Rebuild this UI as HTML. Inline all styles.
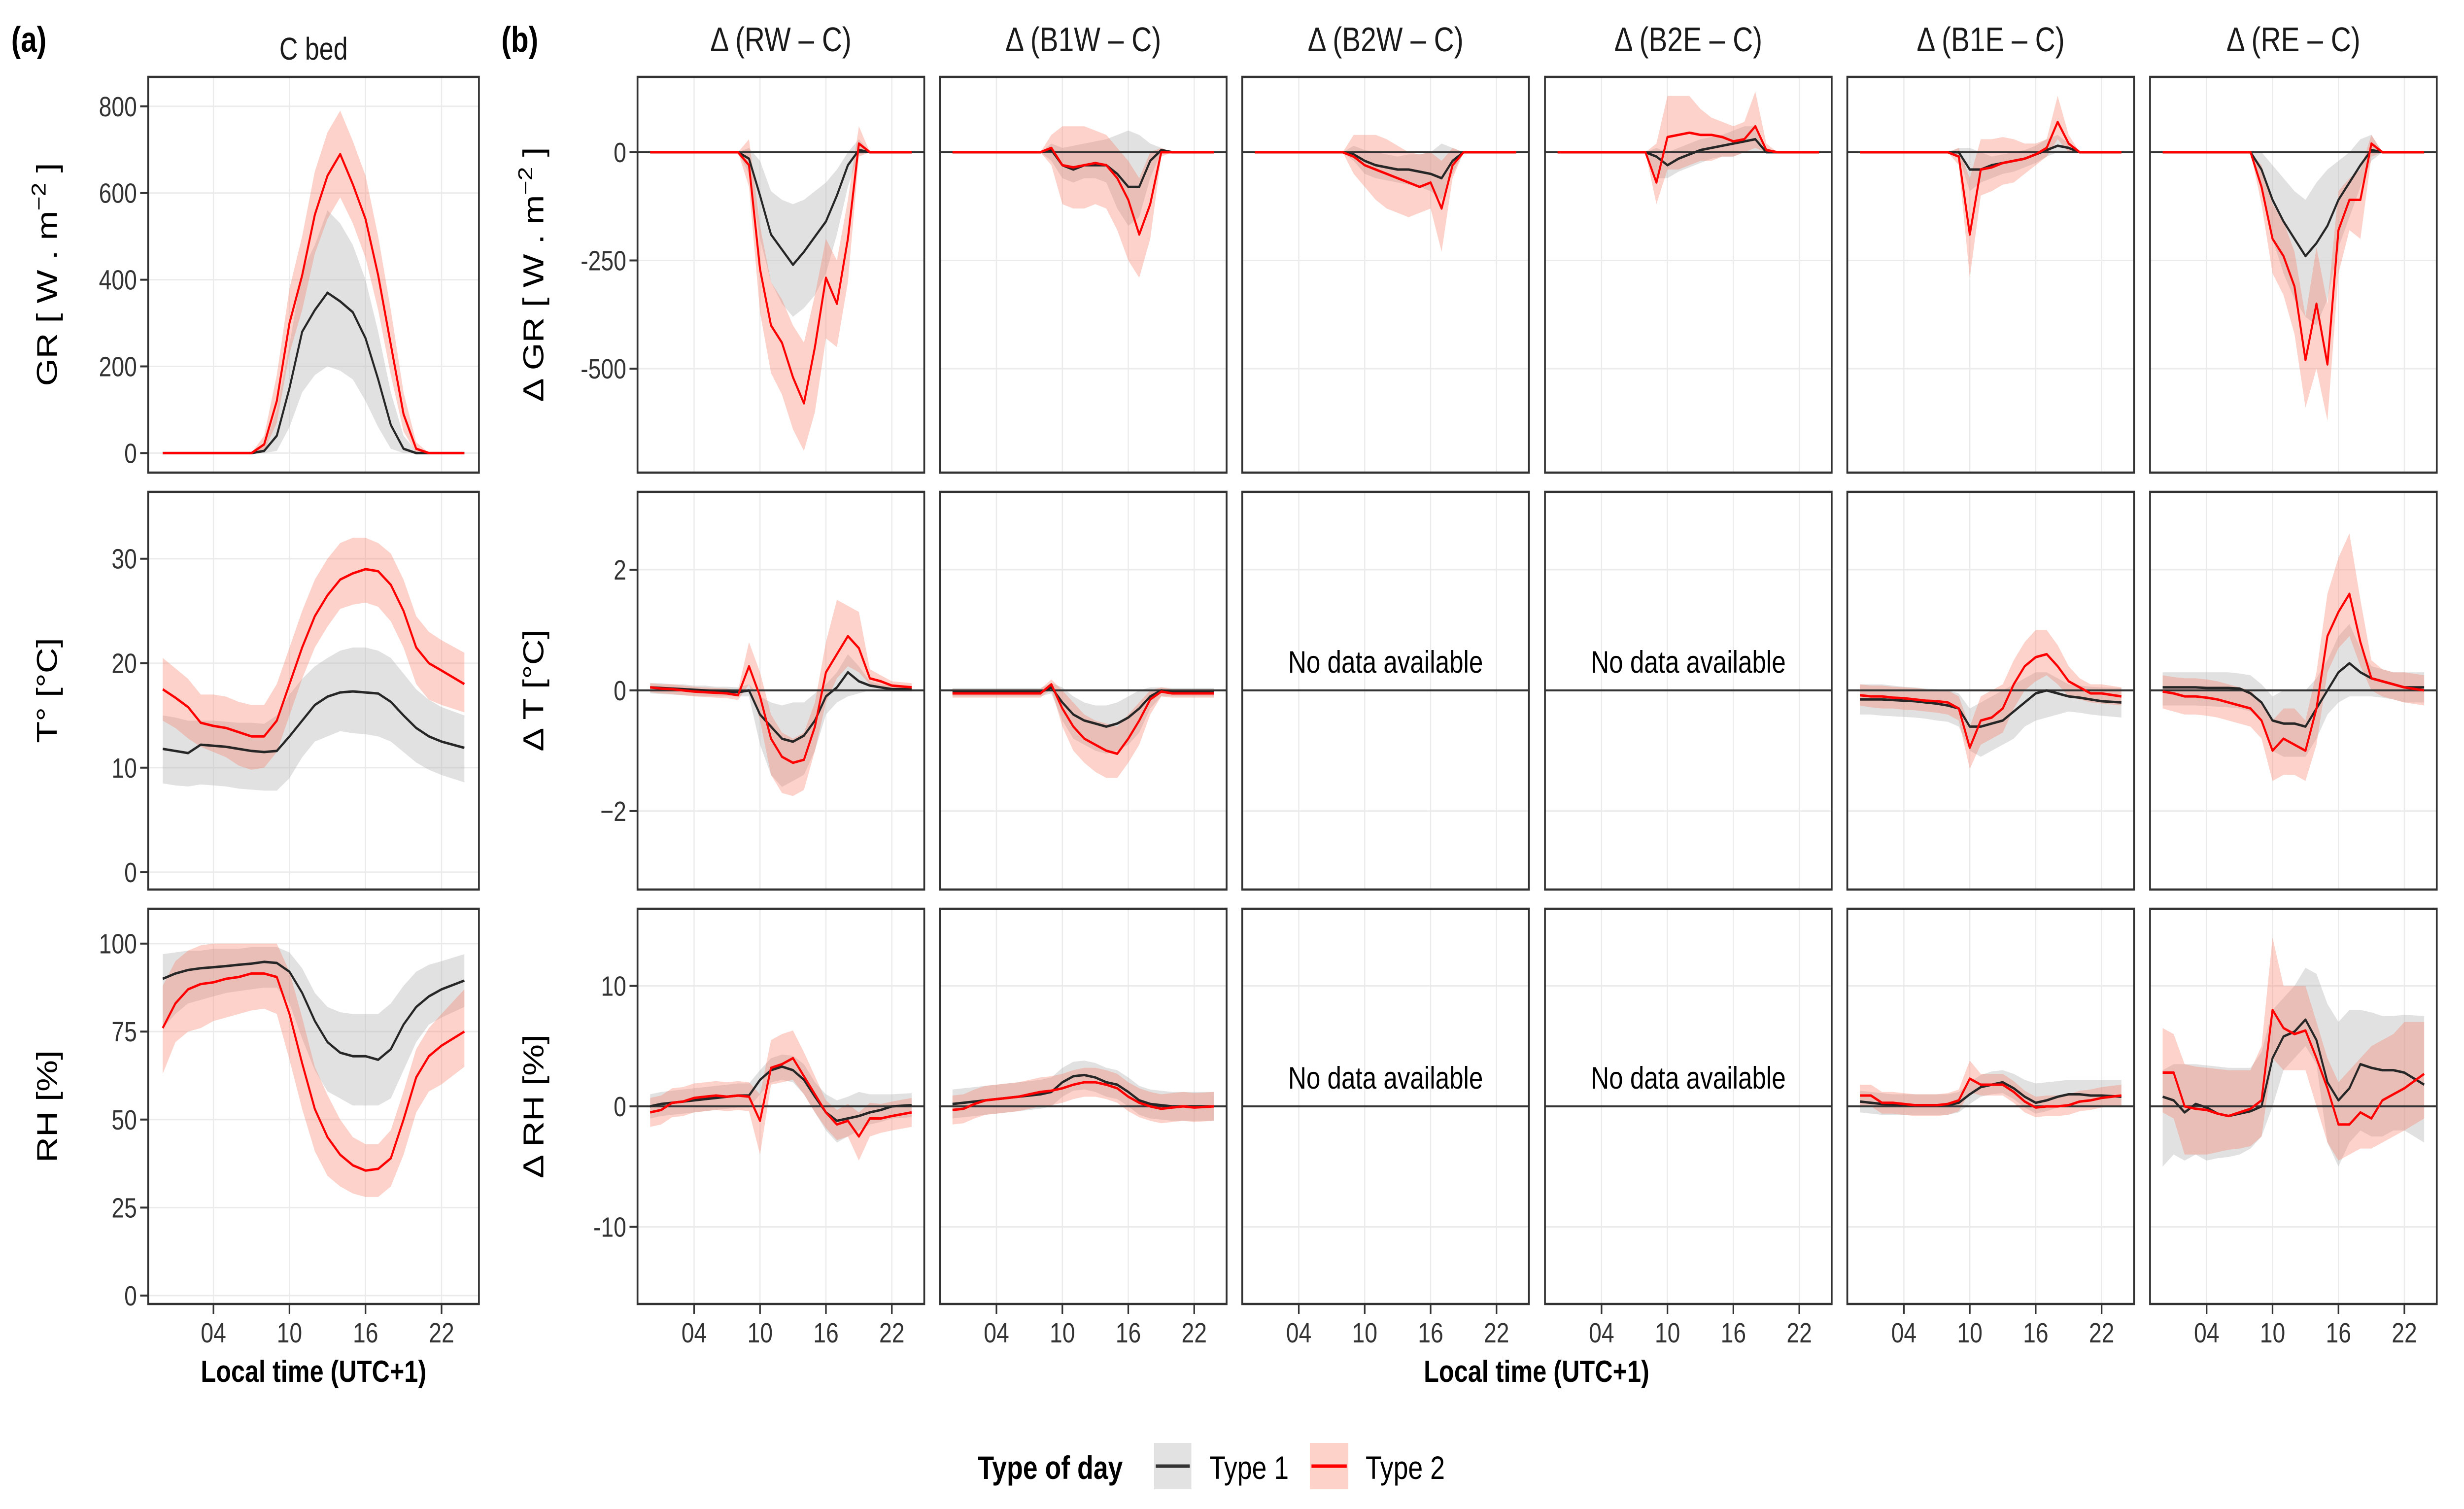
<!DOCTYPE html>
<html><head><meta charset="utf-8"><title>Type of day chart</title>
<style>
html,body{margin:0;padding:0;background:#fff;width:100%;height:100%;overflow:hidden;}
svg{display:block;position:fixed;left:0;top:0;width:100vw;height:100vh;font-family:"Liberation Sans",Arial,sans-serif;}
</style></head>
<body>
<svg id="chart" viewBox="0 0 6153 3062" preserveAspectRatio="none" xmlns="http://www.w3.org/2000/svg">
<rect x="0" y="0" width="6153" height="3062" fill="#fff"/>
<text x="28" y="105" font-size="72" font-weight="bold">(a)</text>
<text x="1252" y="105" font-size="72" font-weight="bold">(b)</text>
<text x="783" y="121" font-size="64" text-anchor="middle" fill="#1a1a1a">C bed</text>
<g font-size="70" text-anchor="middle" fill="#1a1a1a">
<text x="1950" y="104">Δ (RW – C)</text>
<text x="2705" y="104">Δ (B1W – C)</text>
<text x="3460" y="104">Δ (B2W – C)</text>
<text x="4216" y="104">Δ (B2E – C)</text>
<text x="4971" y="104">Δ (B1E – C)</text>
<text x="5727" y="104">Δ (RE – C)</text>
</g>
<g font-size="72" text-anchor="middle" fill="#000">
<text transform="translate(142,557) rotate(-90)">GR [ W . m<tspan font-size="50" dy="-28">−2</tspan><tspan dy="28"> ]</tspan></text>
<text transform="translate(142,1401) rotate(-90)">T° [°C]</text>
<text transform="translate(142,2245) rotate(-90)">RH [%]</text>
<text transform="translate(1357,557) rotate(-90)">Δ GR [ W . m<tspan font-size="50" dy="-28">−2</tspan><tspan dy="28"> ]</tspan></text>
<text transform="translate(1357,1401) rotate(-90)">Δ T [°C]</text>
<text transform="translate(1357,2245) rotate(-90)">Δ RH [%]</text>
</g>
<text x="783" y="2804" font-size="62" font-weight="bold" text-anchor="middle">Local time (UTC+1)</text>
<text x="3837" y="2804" font-size="62" font-weight="bold" text-anchor="middle">Local time (UTC+1)</text>
<g>
<text x="2442" y="3001" font-size="66" font-weight="bold">Type of day</text>
<rect x="2882" y="2928" width="93" height="94" fill="#e2e2e2"/>
<line x1="2886" y1="2975" x2="2971" y2="2975" stroke="#333" stroke-width="7"/>
<text x="3020" y="3001" font-size="66">Type 1</text>
<rect x="3271" y="2928" width="96" height="94" fill="#fcd2c9"/>
<line x1="3275" y1="2975" x2="3363" y2="2975" stroke="#ff0000" stroke-width="7"/>
<text x="3410" y="3001" font-size="66">Type 2</text>
</g>
<g id="panels"></g>
</svg>
<script>
const hours=[0,1,2,3,4,5,6,7,8,9,10,11,12,13,14,15,16,17,18,19,20,21,22,23.8];
const xTicks=[4,10,16,22];
const xTickLabels=['04','10','16','22'];
const yTicksAGR=[0,200,400,600,800];
const yTicksAT=[0,10,20,30];
const yTicksARH=[0,25,50,75,100];
const yTicksBGR=[-500,-250,0];
const yTicksBT=[-2,0,2];
const yTicksBRH=[-10,0,10];
const yLabelsBGR=['-500','-250','0'];
const yLabelsBT=['−2','0','2'];
const yLabelsBRH=['-10','0','10'];

// Panel (a) C bed
const gA1m=[0,0,0,0,0,0,0,0,5,40,150,280,330,370,350,325,265,170,65,10,0,0,0,0];
const gA1l=[0,0,0,0,0,0,0,0,0,5,60,140,180,200,190,170,120,60,10,0,0,0,0,0];
const gA1h=[0,0,0,0,0,0,0,0,15,100,250,420,480,560,530,480,400,280,140,40,5,0,0,0];
const gA2m=[0,0,0,0,0,0,0,0,20,120,300,410,550,640,690,620,540,410,250,90,10,0,0,0];
const gA2l=[0,0,0,0,0,0,0,0,5,70,230,330,460,540,590,530,450,330,180,50,0,0,0,0];
const gA2h=[0,0,0,0,0,0,0,0,40,180,380,500,650,740,790,720,640,500,330,140,25,0,0,0];
const tA1m=[11.8,11.6,11.4,12.2,12.1,12.0,11.8,11.6,11.5,11.6,13,14.5,16,16.8,17.2,17.3,17.2,17.1,16.3,15.0,13.8,13.0,12.5,11.9];
const tA1l=[8.5,8.3,8.2,8.4,8.3,8.2,8.0,7.9,7.8,7.8,9,11,12.5,13,13.5,13.3,13.2,13,12.5,11.5,10.5,9.8,9.3,8.6];
const tA1h=[15,14.8,14.5,14.5,14.5,14.4,14.3,14.3,14.2,15,17,18.5,19.7,20.5,21.2,21.5,21.5,21.2,20.5,19,17.5,16.5,15.8,15];
const tA2m=[17.5,16.7,15.8,14.3,14,13.8,13.4,13.0,13.0,14.5,18,21.5,24.5,26.5,28,28.6,29,28.8,27.5,25,21.5,20,19.3,18];
const tA2l=[14.5,13.8,12.8,12,11.5,11,10.2,9.8,10,11.5,15,18.5,21.5,23.5,25.2,25.6,25.8,25.4,24,21.5,18,16.5,16,15.3];
const tA2h=[20.5,19.5,18.5,17,17,16.8,16.3,16,16,18,21.5,25,28,30,31.5,32,32,31.5,30.5,28,24.5,23,22.2,21];
const hA1m=[90,91.5,92.5,93,93.3,93.6,94,94.3,94.8,94.5,92,86,78,72,69,68,68,67,70,77,82,85,87,89.5];
const hA1l=[76,80,83,84,85,86,86.5,87,87.5,87.5,83,73,64,58,56,54,54,54,56,64,72,77,79,82];
const hA1h=[97,97.5,98,98,98.5,98.5,98.5,99,99,99,97.5,93,86,82,80.5,80,80,80,83,88,92,94,95,97];
const hA2m=[76,83,87,88.5,89,90,90.5,91.5,91.5,90.5,80,66,53,45,40,37,35.5,36,39,50,62,68,71,75];
const hA2l=[63,72,75,76,78,79,80,81,81.5,80,67,53,41,34,31,29,28,28,31,40,52,58,60,65];
const hA2h=[88,95,98,99.5,100,100,100,100,100,100,92,79,65,57,50,45,43,43,47,58,70,76,80,87];

// Panel (b) GR
const rwG1m=[0,0,0,0,0,0,0,0,0,-15,-100,-190,-225,-260,-230,-195,-160,-100,-30,5,0,0,0,0];
const rwG1l=[0,0,0,0,0,0,0,0,0,-50,-200,-300,-350,-380,-360,-330,-280,-190,-80,-5,0,0,0,0];
const rwG1h=[0,0,0,0,0,0,0,0,0,10,-20,-90,-110,-120,-110,-90,-70,-40,0,30,0,0,0,0];
const rwG2m=[0,0,0,0,0,0,0,0,0,-30,-270,-400,-440,-520,-580,-450,-290,-350,-200,20,0,0,0,0];
const rwG2l=[0,0,0,0,0,0,0,0,0,-80,-370,-510,-560,-640,-690,-600,-430,-450,-300,-10,0,0,0,0];
const rwG2h=[0,0,0,0,0,0,0,0,0,30,-170,-300,-340,-400,-440,-330,-200,-250,-110,60,0,0,0,0];
const b1wG1m=[0,0,0,0,0,0,0,0,0,5,-30,-40,-30,-30,-30,-50,-80,-80,-20,5,0,0,0,0];
const b1wG1l=[0,0,0,0,0,0,0,0,0,-20,-60,-70,-60,-60,-70,-130,-170,-150,-60,0,0,0,0,0];
const b1wG1h=[0,0,0,0,0,0,0,0,0,20,10,15,20,25,30,40,50,40,20,10,0,0,0,0];
const b1wG2m=[0,0,0,0,0,0,0,0,0,10,-30,-35,-30,-25,-30,-60,-110,-190,-120,0,0,0,0,0];
const b1wG2l=[0,0,0,0,0,0,0,0,0,-30,-120,-130,-130,-120,-130,-180,-250,-290,-200,-10,0,0,0,0];
const b1wG2h=[0,0,0,0,0,0,0,0,0,40,60,60,60,50,40,10,-20,-60,0,10,0,0,0,0];
const b2wG1m=[0,0,0,0,0,0,0,0,0,-5,-20,-30,-35,-40,-40,-45,-50,-60,-20,0,0,0,0,0];
const b2wG1l=[0,0,0,0,0,0,0,0,0,-20,-50,-60,-65,-70,-75,-80,-90,-110,-50,0,0,0,0,0];
const b2wG1h=[0,0,0,0,0,0,0,0,0,15,5,0,-5,-10,-5,-5,0,20,10,0,0,0,0,0];
const b2wG2m=[0,0,0,0,0,0,0,0,0,-10,-30,-40,-50,-60,-70,-80,-70,-130,-30,0,0,0,0,0];
const b2wG2l=[0,0,0,0,0,0,0,0,0,-50,-80,-110,-130,-140,-150,-140,-130,-230,-60,0,0,0,0,0];
const b2wG2h=[0,0,0,0,0,0,0,0,0,40,40,40,30,15,0,-5,0,-20,10,0,0,0,0,0];
const b2eG1m=[0,0,0,0,0,0,0,0,0,-10,-30,-15,-5,5,10,15,20,25,30,0,0,0,0,0];
const b2eG1l=[0,0,0,0,0,0,0,0,0,-60,-60,-45,-35,-25,-15,-10,-10,0,0,0,0,0,0,0];
const b2eG1h=[0,0,0,0,0,0,0,0,0,10,0,10,20,30,35,40,50,60,60,10,0,0,0,0];
const b2eG2m=[0,0,0,0,0,0,0,0,0,-70,35,40,45,40,40,35,25,30,60,5,0,0,0,0];
const b2eG2l=[0,0,0,0,0,0,0,0,0,-120,-40,-40,-30,-20,-20,-10,-10,0,10,0,0,0,0,0];
const b2eG2h=[0,0,0,0,0,0,0,0,0,20,130,130,130,100,80,70,60,70,140,20,0,0,0,0];
const b1eG1m=[0,0,0,0,0,0,0,0,0,0,-40,-40,-30,-25,-20,-15,-5,5,15,10,0,0,0,0];
const b1eG1l=[0,0,0,0,0,0,0,0,0,-10,-90,-70,-60,-50,-45,-35,-25,-10,0,0,0,0,0,0];
const b1eG1h=[0,0,0,0,0,0,0,0,0,10,10,0,-10,-5,0,5,15,30,40,20,0,0,0,0];
const b1eG2m=[0,0,0,0,0,0,0,0,0,-10,-190,-40,-35,-25,-20,-15,-5,10,70,20,0,0,0,0];
const b1eG2l=[0,0,0,0,0,0,0,0,0,-30,-290,-100,-90,-75,-70,-50,-30,-10,30,0,0,0,0,0];
const b1eG2h=[0,0,0,0,0,0,0,0,0,10,-60,30,30,35,30,20,20,30,130,40,0,0,0,0];
const reG1m=[0,0,0,0,0,0,0,0,0,-40,-110,-160,-200,-240,-210,-170,-110,-70,-30,5,0,0,0,0];
const reG1l=[0,0,0,0,0,0,0,0,0,-90,-200,-280,-340,-380,-400,-340,-220,-150,-80,-20,0,0,0,0];
const reG1h=[0,0,0,0,0,0,0,0,0,0,-30,-60,-90,-110,-70,-40,-20,0,30,40,0,0,0,0];
const reG2m=[0,0,0,0,0,0,0,0,0,-80,-200,-240,-310,-480,-350,-490,-180,-110,-110,20,0,0,0,0];
const reG2l=[0,0,0,0,0,0,0,0,0,-120,-280,-330,-420,-590,-500,-620,-280,-180,-200,-10,0,0,0,0];
const reG2h=[0,0,0,0,0,0,0,0,0,-30,-120,-160,-230,-380,-220,-350,-90,-60,-40,40,0,0,0,0];

// Panel (b) T
const rwT1m=[0.05,0.04,0.03,0.02,0.01,0,-0.01,-0.02,-0.03,0,-0.4,-0.6,-0.8,-0.85,-0.75,-0.5,-0.1,0.05,0.3,0.15,0.08,0.05,0.02,0.02];
const rwT1l=[-0.05,-0.06,-0.07,-0.08,-0.09,-0.1,-0.1,-0.1,-0.1,-0.1,-0.9,-1.4,-1.6,-1.5,-1.4,-1.0,-0.4,-0.2,-0.1,-0.05,0,0,-0.02,-0.02];
const rwT1h=[0.12,0.12,0.1,0.1,0.08,0.08,0.06,0.06,0.05,0.1,-0.1,-0.2,-0.25,-0.2,-0.2,-0.05,0.1,0.3,0.6,0.4,0.15,0.1,0.08,0.08];
const rwT2m=[0.05,0.03,0.02,0,-0.02,-0.03,-0.04,-0.05,-0.08,0.4,-0.1,-0.8,-1.1,-1.2,-1.15,-0.6,0.3,0.6,0.9,0.7,0.2,0.15,0.08,0.05];
const rwT2l=[-0.03,-0.05,-0.06,-0.08,-0.1,-0.11,-0.12,-0.13,-0.16,0.1,-0.5,-1.4,-1.7,-1.75,-1.65,-1.0,-0.2,0.2,0.4,0.3,0.1,0.05,0,-0.02];
const rwT2h=[0.12,0.1,0.1,0.08,0.06,0.05,0.04,0.03,0,0.8,0.3,-0.4,-0.7,-0.8,-0.7,-0.2,0.8,1.5,1.4,1.3,0.35,0.25,0.15,0.12];
const b1wT1m=[-0.03,-0.03,-0.03,-0.03,-0.03,-0.03,-0.03,-0.03,-0.03,0.05,-0.2,-0.4,-0.5,-0.55,-0.6,-0.55,-0.45,-0.3,-0.1,0,-0.03,-0.03,-0.03,-0.03];
const b1wT1l=[-0.1,-0.1,-0.1,-0.1,-0.1,-0.1,-0.1,-0.1,-0.1,-0.05,-0.5,-0.8,-0.9,-1.0,-1.05,-1.0,-0.9,-0.7,-0.3,-0.1,-0.1,-0.1,-0.1,-0.1];
const b1wT1h=[0.04,0.04,0.04,0.04,0.04,0.04,0.04,0.04,0.04,0.12,0.05,-0.1,-0.2,-0.25,-0.25,-0.2,-0.1,0,0.05,0.05,0.04,0.04,0.04,0.04];
const b1wT2m=[-0.05,-0.05,-0.05,-0.05,-0.05,-0.05,-0.05,-0.05,-0.05,0.1,-0.3,-0.6,-0.8,-0.9,-1.0,-1.05,-0.8,-0.5,-0.15,-0.02,-0.05,-0.05,-0.05,-0.05];
const b1wT2l=[-0.12,-0.12,-0.12,-0.12,-0.12,-0.12,-0.12,-0.12,-0.12,0.02,-0.6,-1.0,-1.2,-1.35,-1.45,-1.45,-1.2,-0.9,-0.4,-0.1,-0.12,-0.12,-0.12,-0.12];
const b1wT2h=[0.02,0.02,0.02,0.02,0.02,0.02,0.02,0.02,0.02,0.18,0,-0.2,-0.4,-0.5,-0.55,-0.6,-0.4,-0.2,0,0.05,0.02,0.02,0.02,0.02];
const b1eT1m=[-0.15,-0.15,-0.15,-0.16,-0.17,-0.18,-0.2,-0.22,-0.25,-0.3,-0.6,-0.6,-0.55,-0.5,-0.35,-0.2,-0.05,0,-0.05,-0.1,-0.12,-0.15,-0.18,-0.2];
const b1eT1l=[-0.4,-0.4,-0.42,-0.43,-0.44,-0.45,-0.47,-0.5,-0.52,-0.6,-1.0,-1.1,-1.0,-0.9,-0.8,-0.6,-0.5,-0.45,-0.4,-0.35,-0.37,-0.4,-0.42,-0.45];
const b1eT1h=[0.1,0.1,0.1,0.08,0.06,0.05,0.03,0.02,0,-0.05,-0.3,-0.2,-0.1,0,0.1,0.2,0.3,0.3,0.2,0.1,0.08,0.06,0.05,0.04];
const b1eT2m=[-0.08,-0.1,-0.1,-0.12,-0.13,-0.15,-0.17,-0.18,-0.2,-0.3,-0.95,-0.5,-0.45,-0.3,0.1,0.4,0.55,0.6,0.4,0.15,0.05,-0.05,-0.05,-0.1];
const b1eT2l=[-0.25,-0.28,-0.3,-0.3,-0.32,-0.33,-0.35,-0.37,-0.4,-0.5,-1.3,-0.9,-0.8,-0.7,-0.3,0,0.15,0.25,0.1,-0.1,-0.15,-0.2,-0.22,-0.25];
const b1eT2h=[0.1,0.08,0.08,0.06,0.05,0.04,0.02,0,0,-0.1,-0.6,-0.1,0,0.1,0.5,0.8,1.0,1.0,0.75,0.4,0.2,0.1,0.1,0.05];
const reT1m=[0.05,0.05,0.05,0.05,0.04,0.04,0.04,0.03,-0.05,-0.2,-0.5,-0.55,-0.55,-0.6,-0.3,0,0.3,0.45,0.3,0.2,0.15,0.1,0.05,0.05];
const reT1l=[-0.25,-0.25,-0.25,-0.25,-0.26,-0.27,-0.28,-0.3,-0.35,-0.5,-1.0,-1.1,-1.1,-1.1,-0.8,-0.4,-0.2,-0.1,-0.1,-0.1,-0.12,-0.15,-0.2,-0.2];
const reT1h=[0.3,0.3,0.3,0.3,0.3,0.3,0.3,0.28,0.25,0.1,-0.1,0,0,0,0.2,0.5,0.9,1.1,0.7,0.4,0.35,0.3,0.3,0.3];
const reT2m=[-0.02,-0.05,-0.1,-0.1,-0.12,-0.15,-0.2,-0.25,-0.3,-0.5,-1.0,-0.8,-0.9,-1.0,-0.3,0.9,1.3,1.6,0.8,0.2,0.15,0.1,0.05,0];
const reT2l=[-0.3,-0.35,-0.4,-0.4,-0.42,-0.45,-0.5,-0.55,-0.6,-0.8,-1.5,-1.4,-1.4,-1.5,-0.9,0.3,0.7,0.9,0.4,0,-0.1,-0.15,-0.2,-0.25];
const reT2h=[0.25,0.22,0.2,0.2,0.18,0.15,0.1,0.05,0,-0.2,-0.5,-0.3,-0.3,-0.5,0.3,1.6,2.2,2.6,1.5,0.5,0.35,0.3,0.3,0.25];

// Panel (b) RH
const rwH1m=[0,0.2,0.3,0.4,0.5,0.6,0.7,0.8,0.9,0.9,2.2,3.0,3.3,3.0,2.2,0.8,-0.5,-1.2,-1.0,-0.8,-0.5,-0.3,0,0.1];
const rwH1l=[-1,-0.8,-0.7,-0.6,-0.5,-0.4,-0.3,-0.2,-0.1,-0.1,1.0,2.0,2.2,2.0,1.0,-0.5,-2,-3,-2.5,-2,-1.5,-1.3,-1,-0.9];
const rwH1h=[1,1.2,1.3,1.4,1.5,1.6,1.7,1.8,1.9,1.9,3.0,4.0,4.3,4.2,3.5,2.0,1.0,0.5,0.8,1.2,1.0,1.0,1.0,1.1];
const rwH2m=[-0.5,-0.3,0.3,0.4,0.7,0.8,0.9,0.8,0.9,0.8,-1.2,3.2,3.5,4.0,2.5,1.0,-0.5,-1.5,-1.2,-2.5,-1.0,-1.0,-0.8,-0.5];
const rwH2l=[-1.7,-1.5,-0.9,-0.8,-0.5,-0.4,-0.3,-0.4,-0.3,-0.4,-4.0,1.8,2.0,2.2,1.0,-0.5,-1.8,-2.8,-2.5,-4.5,-2.5,-2.2,-2.0,-1.7];
const rwH2h=[0.7,0.9,1.5,1.6,1.9,2.0,2.1,2.0,2.1,2.0,1.0,5.5,6.0,6.3,4.5,2.5,0.5,-0.3,0.2,-0.5,0.3,0.2,0.4,0.7];
const b1wH1m=[0.2,0.3,0.4,0.5,0.6,0.7,0.8,0.9,1.0,1.2,2.0,2.5,2.6,2.4,2.0,1.8,1.2,0.5,0.2,0.1,0,0,0,0];
const b1wH1l=[-1.0,-0.9,-0.8,-0.7,-0.6,-0.5,-0.4,-0.3,-0.2,0,0.8,1.3,1.4,1.2,0.8,0.6,0,-0.7,-1.0,-1.1,-1.2,-1.2,-1.2,-1.2];
const b1wH1h=[1.4,1.5,1.6,1.7,1.8,1.9,2.0,2.1,2.2,2.4,3.2,3.7,3.8,3.6,3.2,3.0,2.4,1.7,1.4,1.3,1.2,1.2,1.2,1.2];
const b1wH2m=[-0.3,-0.2,0.2,0.5,0.6,0.7,0.8,1.0,1.2,1.3,1.5,1.8,2.0,2.0,1.8,1.5,0.8,0.3,0,-0.2,-0.1,0,-0.1,0];
const b1wH2l=[-1.5,-1.4,-1.0,-0.7,-0.6,-0.5,-0.4,-0.2,0,0.1,0.3,0.6,0.8,0.8,0.6,0.3,-0.4,-0.9,-1.2,-1.4,-1.3,-1.2,-1.3,-1.2];
const b1wH2h=[0.9,1.0,1.4,1.7,1.8,1.9,2.0,2.2,2.4,2.5,2.7,3.0,3.2,3.2,3.0,2.7,2.0,1.5,1.2,1.0,1.1,1.2,1.1,1.2];
const b1eH1m=[0.4,0.3,0.2,0.15,0.1,0.1,0.1,0.1,0.1,0.3,1.0,1.6,1.8,2.0,1.5,0.8,0.3,0.5,0.8,1.0,1.0,0.9,0.9,0.8];
const b1eH1l=[-0.5,-0.6,-0.7,-0.7,-0.7,-0.7,-0.7,-0.7,-0.7,-0.5,0.2,0.8,1.0,1.1,0.6,-0.1,-0.6,-0.4,-0.1,0.1,0.1,0,0,-0.1];
const b1eH1h=[1.3,1.2,1.1,1.0,1.0,1.0,1.0,1.0,1.0,1.2,2.0,2.6,2.9,3.0,2.7,2.2,1.9,2.0,2.1,2.2,2.2,2.2,2.2,2.2];
const b1eH2m=[0.9,0.9,0.3,0.3,0.2,0.1,0.1,0.1,0.2,0.5,2.3,1.8,1.8,1.8,1.2,0.4,-0.1,0,0,0.1,0.4,0.5,0.7,0.9];
const b1eH2l=[0,0,-0.6,-0.6,-0.7,-0.8,-0.8,-0.8,-0.7,-0.4,1.2,0.9,0.9,0.9,0.3,-0.5,-0.9,-0.8,-0.8,-0.7,-0.4,-0.3,-0.1,0];
const b1eH2h=[1.8,1.8,1.2,1.2,1.1,1.0,1.0,1.0,1.1,1.4,3.8,2.7,2.7,2.7,2.1,1.3,0.8,0.9,0.9,1.0,1.3,1.4,1.6,1.8];
const reH1m=[0.8,0.5,-0.5,0.2,-0.1,-0.6,-0.8,-0.6,-0.4,0,4.0,5.8,6.2,7.2,5.5,2.0,0.5,1.5,3.5,3.2,3.0,3.0,2.8,1.8];
const reH1l=[-5,-4,-4.5,-4,-4.5,-4.3,-4.2,-4,-3.5,-2.5,0,3,4,5,3.5,-3,-5,-3,-2,-2.5,-2.5,-2,-2,-3];
const reH1h=[3,3.5,3.5,3.5,3.4,3.3,3.2,3.2,3.2,4.5,8,9,10,11.5,11,8.5,7,8,8,7.8,7.5,7.5,7.6,7.5];
const reH2m=[2.8,2.8,0,-0.2,-0.3,-0.6,-0.8,-0.5,-0.2,0.5,8.0,6.5,6.0,6.3,4.0,1.5,-1.5,-1.5,-0.5,-1.0,0.5,1.0,1.5,2.7];
const reH2l=[-0.5,-1,-4,-4,-4,-3.8,-3.6,-3.5,-3.3,-2.5,4,3,3,3,0,-3,-4.5,-4,-3.5,-3.5,-3,-2.5,-2,-1];
const reH2h=[6.5,6,3.5,3.3,3.2,3.1,3.0,3.0,3.0,5,14,10,10,10,7,4,2,3,4,5,5.5,6,7,7];

const NS='http://www.w3.org/2000/svg';
const root=document.getElementById('panels');
function mk(tag,attrs,parent){const e=document.createElementNS(NS,tag);for(const k in attrs)e.setAttribute(k,attrs[k]);(parent||root).appendChild(e);return e;}

const rowTop=[156,998,1844], rowBot=[959,1805,2646];
const colLeft=[1592,2347,3102,3858,4613,5369], colW=716;
const xDom=[-1.15,24.95];

function drawPanel(p){
  const g=mk('g',{});
  
  
  const x0=p.x0,w=p.w,y0=rowTop[p.row],y1=rowBot[p.row],h=y1-y0;
  const X=v=>x0+(v-xDom[0])/(xDom[1]-xDom[0])*w;
  const Y=v=>y1-(v-p.dom[0])/(p.dom[1]-p.dom[0])*h;
  xTicks.forEach(t=>{
    const l=mk('line',{x1:X(t),x2:X(t),y1:y0,y2:y1,stroke:'#ebebeb','stroke-width':3},g);
    
    
  });
  p.yticks.forEach(t=>{
    const l=mk('line',{x1:x0,x2:x0+w,y1:Y(t),y2:Y(t),stroke:'#ebebeb','stroke-width':3},g);
    
    
  });
  const fills=['#b8b8b8','#f77f66'], ops=[0.42,0.35], strokes=['#262626','#ff0000'];
  (p.series||[]).forEach((s,i)=>{
    let d='M'+hours.map((hr,k)=>X(hr).toFixed(1)+','+Y(s[1][k]).toFixed(1)).join('L');
    for(let k=hours.length-1;k>=0;k--) d+='L'+X(hours[k]).toFixed(1)+','+Y(s[0][k]).toFixed(1);
    const r=mk('path',{d:d+'Z',fill:fills[i],'fill-opacity':ops[i],stroke:'none'},g);
    
    
  });
  if(p.zero){
    const z=mk('line',{x1:x0,x2:x0+w,y1:Y(0),y2:Y(0),stroke:'#333','stroke-width':4},g);
    
    
  }
  (p.series||[]).forEach((s,i)=>{
    const d='M'+hours.map((hr,k)=>X(hr).toFixed(1)+','+Y(s[2][k]).toFixed(1)).join('L');
    const ln=mk('path',{d:d,fill:'none',stroke:strokes[i],'stroke-width':5,'stroke-linejoin':'round'},g);
    
    
  });
  if(p.noData){
    const t=mk('text',{x:x0+w/2,y:Y(0)-36,'font-size':63,'text-anchor':'middle',fill:'#000'},g);
    t.textContent='No data available';
    
    
  }
  const b=mk('rect',{x:x0,y:y0,width:w,height:h,fill:'none',stroke:'#333','stroke-width':4.5},g);
  
  
  if(p.ylabels){
    p.yticks.forEach((t,i)=>{
      const tk=mk('line',{x1:x0-20,x2:x0,y1:Y(t),y2:Y(t),stroke:'#333','stroke-width':4},g);
      
      
      const tl=mk('text',{x:x0-28,y:Y(t)+20,'font-size':57,'text-anchor':'end',fill:'#333'},g);
      tl.textContent=p.ylabels[i];
      
      
    });
  }
  if(p.showX){
    xTicks.forEach((t,i)=>{
      const tk=mk('line',{x1:X(t),x2:X(t),y1:y1,y2:y1+20,stroke:'#333','stroke-width':4},g);
      
      
      const tl=mk('text',{x:X(t),y:y1+78,'font-size':57,'text-anchor':'middle',fill:'#333'},g);
      tl.textContent=xTickLabels[i];
      
      
    });
  }
}

// panel (a)
drawPanel({name:'panel-a-gr',x0:370,w:826,row:0,dom:[-45,868],yticks:yTicksAGR,ylabels:yTicksAGR.map(String),series:[[gA1l,gA1h,gA1m],[gA2l,gA2h,gA2m]]});
drawPanel({name:'panel-a-t',x0:370,w:826,row:1,dom:[-1.66,36.4],yticks:yTicksAT,ylabels:yTicksAT.map(String),series:[[tA1l,tA1h,tA1m],[tA2l,tA2h,tA2m]]});
drawPanel({name:'panel-a-rh',x0:370,w:826,row:2,dom:[-2.4,109.9],yticks:yTicksARH,ylabels:yTicksARH.map(String),showX:true,series:[[hA1l,hA1h,hA1m],[hA2l,hA2h,hA2m]]});

// panel (b)
const gDom=[-740,174], tDom=[-3.3,3.29], hDom=[-16.4,16.4];
const colNames=['rw','b1w','b2w','b2e','b1e','re'];
const gSeries=[
 [[rwG1l,rwG1h,rwG1m],[rwG2l,rwG2h,rwG2m]],
 [[b1wG1l,b1wG1h,b1wG1m],[b1wG2l,b1wG2h,b1wG2m]],
 [[b2wG1l,b2wG1h,b2wG1m],[b2wG2l,b2wG2h,b2wG2m]],
 [[b2eG1l,b2eG1h,b2eG1m],[b2eG2l,b2eG2h,b2eG2m]],
 [[b1eG1l,b1eG1h,b1eG1m],[b1eG2l,b1eG2h,b1eG2m]],
 [[reG1l,reG1h,reG1m],[reG2l,reG2h,reG2m]]];
const tSeries=[
 [[rwT1l,rwT1h,rwT1m],[rwT2l,rwT2h,rwT2m]],
 [[b1wT1l,b1wT1h,b1wT1m],[b1wT2l,b1wT2h,b1wT2m]],
 null,null,
 [[b1eT1l,b1eT1h,b1eT1m],[b1eT2l,b1eT2h,b1eT2m]],
 [[reT1l,reT1h,reT1m],[reT2l,reT2h,reT2m]]];
const hSeries=[
 [[rwH1l,rwH1h,rwH1m],[rwH2l,rwH2h,rwH2m]],
 [[b1wH1l,b1wH1h,b1wH1m],[b1wH2l,b1wH2h,b1wH2m]],
 null,null,
 [[b1eH1l,b1eH1h,b1eH1m],[b1eH2l,b1eH2h,b1eH2m]],
 [[reH1l,reH1h,reH1m],[reH2l,reH2h,reH2m]]];
colNames.forEach((c,i)=>{
  drawPanel({name:'panel-'+c+'-gr',x0:colLeft[i],w:colW,row:0,dom:gDom,yticks:yTicksBGR,ylabels:i===0?yLabelsBGR:null,zero:true,series:gSeries[i]});
  drawPanel({name:'panel-'+c+'-t',x0:colLeft[i],w:colW,row:1,dom:tDom,yticks:yTicksBT,ylabels:i===0?yLabelsBT:null,zero:true,series:tSeries[i]||[],noData:!tSeries[i]});
  drawPanel({name:'panel-'+c+'-rh',x0:colLeft[i],w:colW,row:2,dom:hDom,yticks:yTicksBRH,ylabels:i===0?yLabelsBRH:null,zero:true,showX:true,series:hSeries[i]||[],noData:!hSeries[i]});
});
</script>
</body></html>
